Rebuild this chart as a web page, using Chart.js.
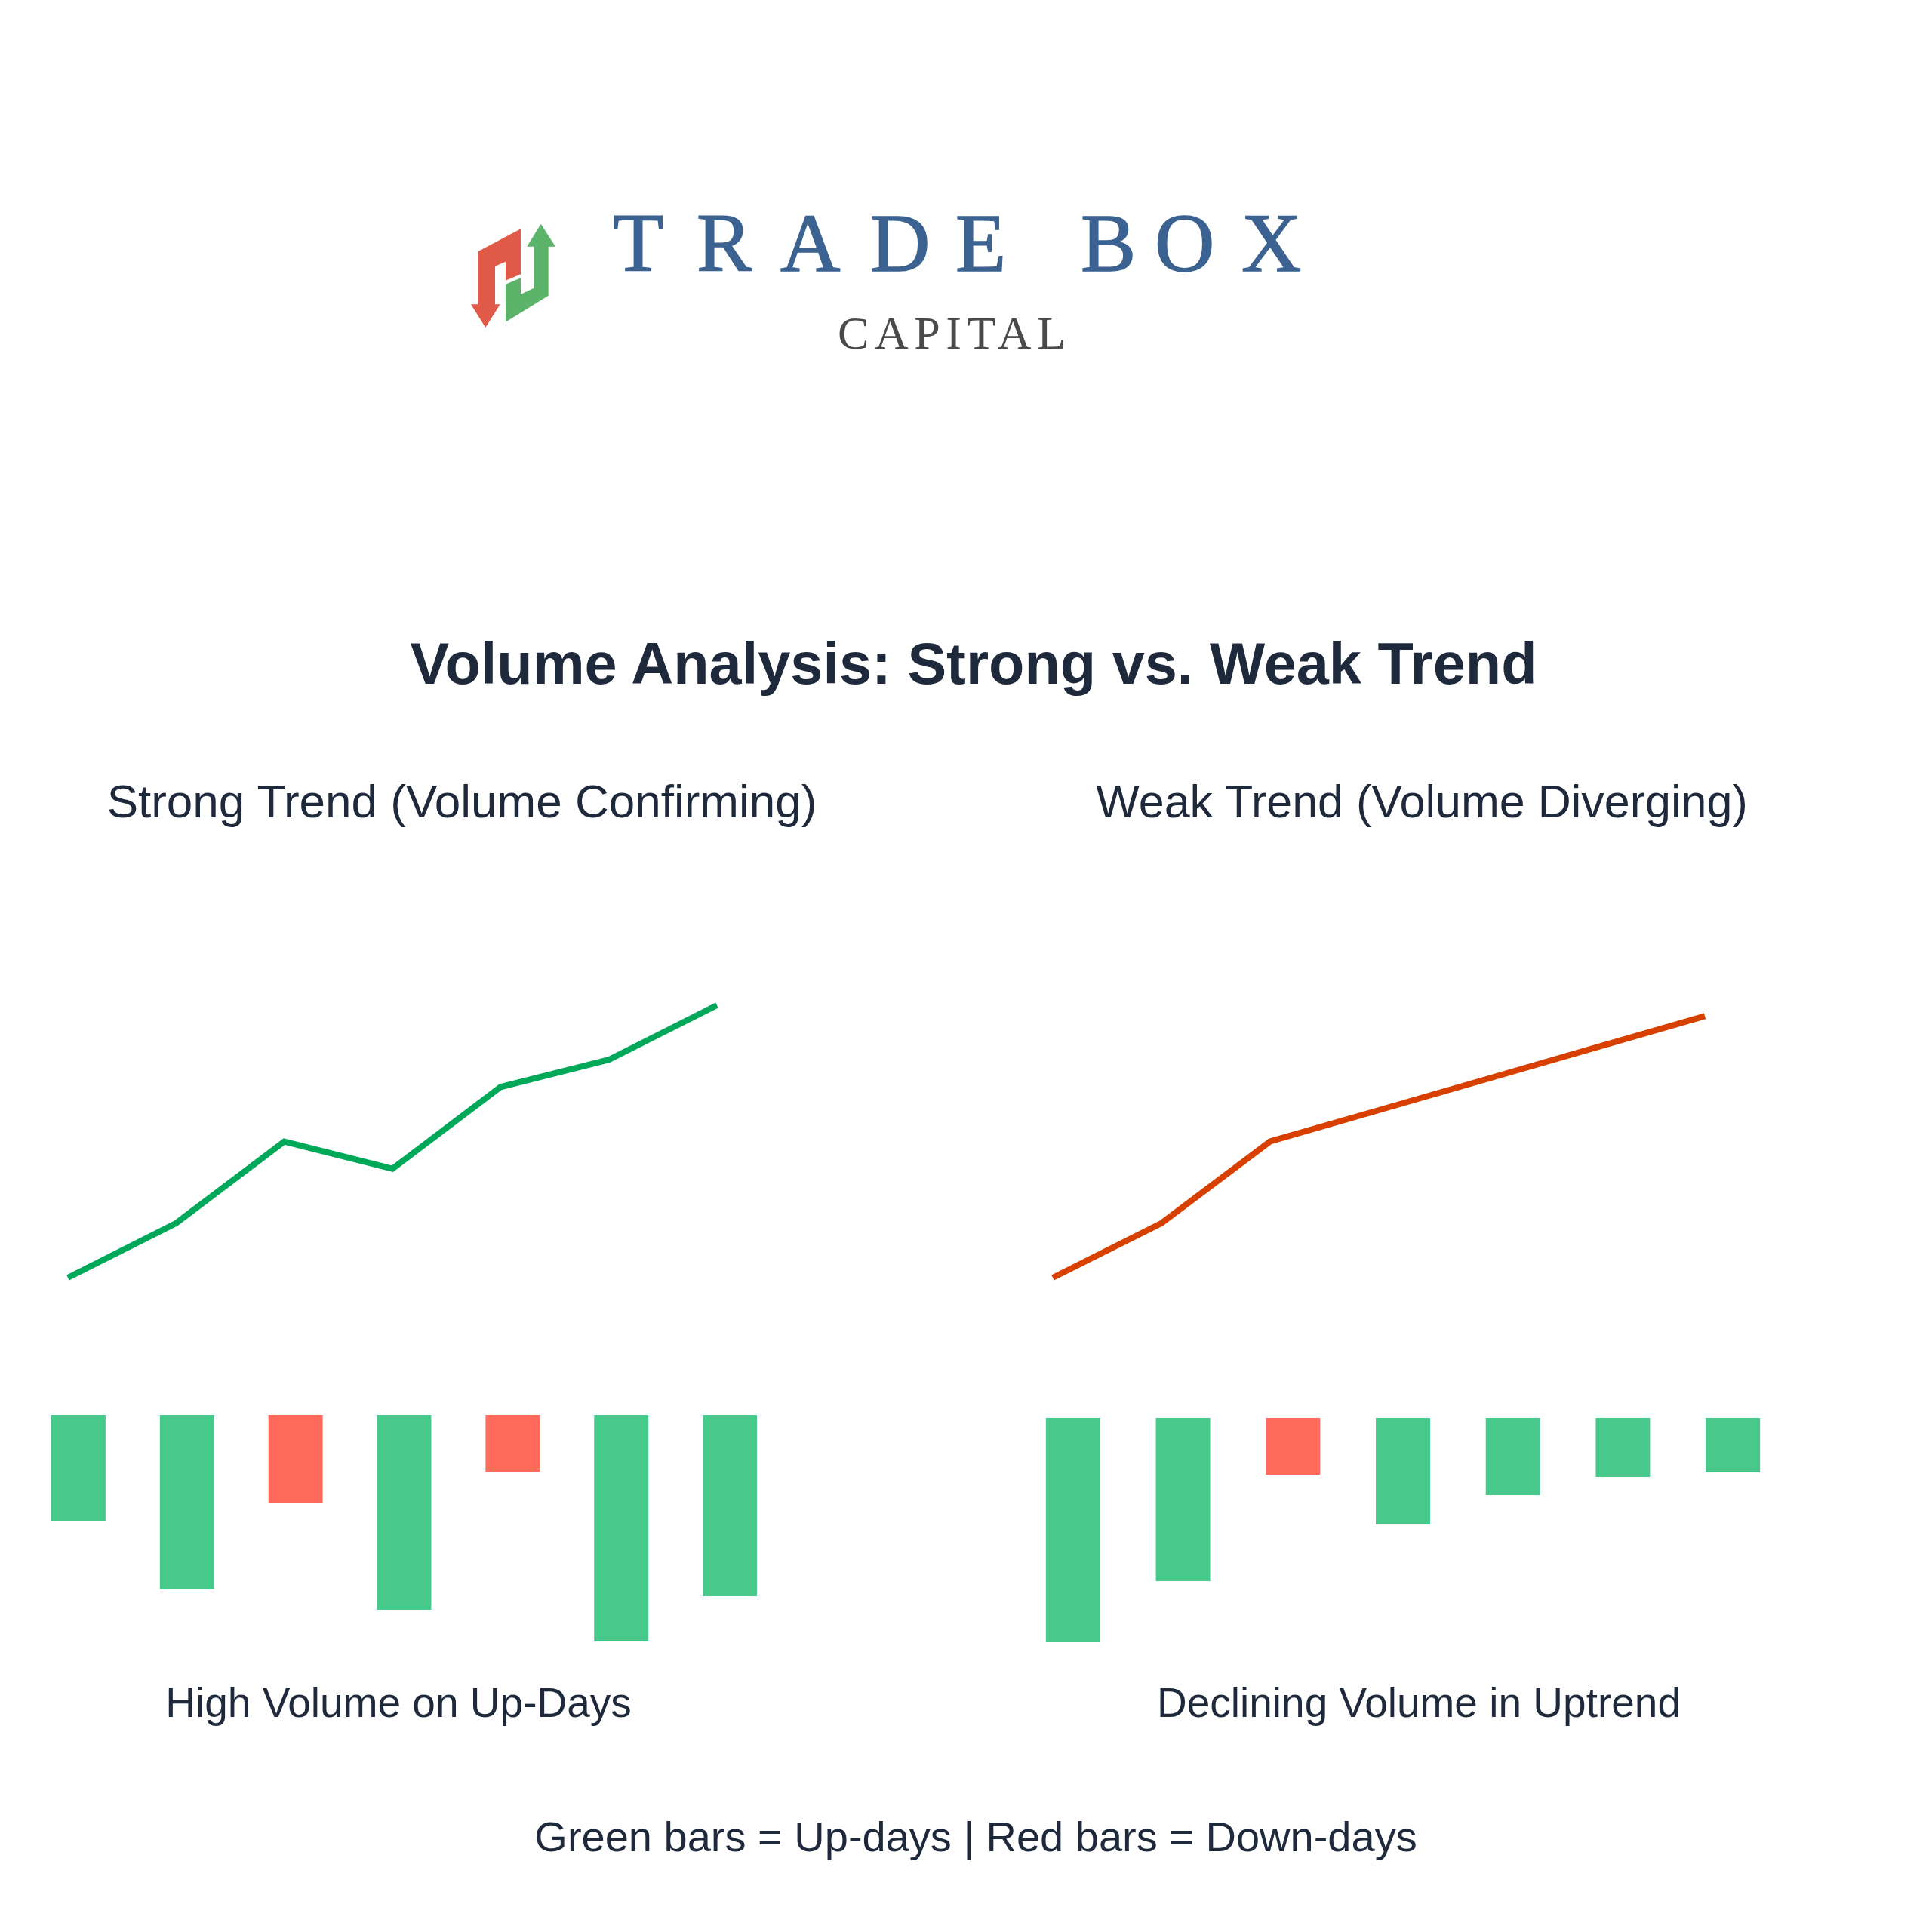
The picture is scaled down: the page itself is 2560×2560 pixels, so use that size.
<!DOCTYPE html>
<html lang="en">
<head>
  <meta charset="UTF-8" />
  <title>Volume Analysis: Strong vs. Weak Trend</title>
  <script src="https://cdn.jsdelivr.net/npm/chart.js"></script>
  <style>
    body {
      margin: 0;
      background: #fff;
      width: 2560px;
      height: 2560px;
      position: relative;
      overflow: hidden;
    }
    canvas, svg {
      position: absolute;
    }
    #overlay {
      left: 0;
      top: 0;
    }
    .sans {
      font-family: "Liberation Sans", Arial, sans-serif;
      fill: #1e293b;
    }
  </style>
</head>
<body>
  <svg id="overlay" width="2560" height="2560" viewBox="0 0 2560 2560">
    <!-- logo mark -->
    <g transform="translate(610,280)">
      <polygon fill="#e05a47" points="23.3,53.3 80,23.3 80,83.3 60,91.7 60,66.7 46,72.7 46,123.3 52.7,123.3 33.3,154 14,123.3 23.3,123.3" />
      <polygon fill="#5cb36a" points="106.7,16.7 126,46.7 116.7,46.7 116.7,111.7 60,146.7 60,96.7 80,88.3 80,110 97.3,101.7 97.3,46.7 88.3,46.7" />
    </g>
    <text x="812 923 1034 1153 1266 1432 1530 1645" y="359" font-family="Liberation Serif, serif" font-size="110" fill="#3b6290" stroke="#3b6290" stroke-width="1.5">TRADEBOX</text>
    <text x="1110" y="462" textLength="302" lengthAdjust="spacing" font-family="Liberation Serif, serif" font-size="62" fill="#4a4a4a">CAPITAL</text>

    <text class="sans" x="1290" y="906" text-anchor="middle" font-size="77.5" font-weight="bold">Volume Analysis: Strong vs. Weak Trend</text>
    <text class="sans" x="612" y="1083" text-anchor="middle" font-size="62">Strong Trend (Volume Confirming)</text>
    <text class="sans" x="1884" y="1083" text-anchor="middle" font-size="61">Weak Trend (Volume Diverging)</text>
    <text class="sans" x="528" y="2275" text-anchor="middle" font-size="55">High Volume on Up-Days</text>
    <text class="sans" x="1880" y="2275" text-anchor="middle" font-size="55">Declining Volume in Uptrend</text>
    <text class="sans" x="1293" y="2453" text-anchor="middle" font-size="56">Green bars = Up-days | Red bars = Down-days</text>
  </svg>

  <canvas id="strongLine" width="920" height="430" style="left:60px;top:1300px"></canvas>
  <canvas id="weakLine" width="924" height="430" style="left:1365px;top:1300px"></canvas>
  <canvas id="strongBars" width="1007" height="300" style="left:32px;top:1875px"></canvas>
  <canvas id="weakBars" width="1020" height="300" style="left:1349px;top:1879px"></canvas>

  <script>
    const days = ['Day 1', 'Day 2', 'Day 3', 'Day 4', 'Day 5', 'Day 6', 'Day 7'];

    const strongPrice = [100, 102, 105, 104, 107, 108, 110];
    const weakPrice = [100, 102, 105, 106.15, 107.3, 108.45, 109.6];

    const strongVolume = [47, 77, 39, 86, 25, 100, 80];
    const weakVolume = [99, 72, 25, 47, 34, 26, 24];

    const strongUp = [true, true, false, true, false, true, true];
    const weakUp = [true, true, false, true, true, true, true];

    const upColor = '#48c98c';
    const downColor = '#ff6a5b';

    function priceChart(id, values, color) {
      return new Chart(document.getElementById(id), {
        type: 'line',
        data: {
          labels: days,
          datasets: [{
            data: values,
            borderColor: color,
            borderWidth: 8,
            pointRadius: 0,
            tension: 0,
            fill: false,
            clip: false
          }]
        },
        options: {
          responsive: false,
          animation: false,
          events: [],
          layout: { padding: { left: 30, right: 30, top: 32, bottom: 37 } },
          plugins: { legend: { display: false }, tooltip: { enabled: false } },
          scales: {
            x: { display: false, offset: false },
            y: { display: false, min: 100, max: 110 }
          }
        }
      });
    }

    function volumeChart(id, values, up, barPct) {
      return new Chart(document.getElementById(id), {
        type: 'bar',
        data: {
          labels: days,
          datasets: [{
            data: values,
            backgroundColor: up.map(u => u ? upColor : downColor),
            borderWidth: 0,
            categoryPercentage: 1,
            barPercentage: barPct
          }]
        },
        options: {
          responsive: false,
          animation: false,
          events: [],
          layout: { padding: 0 },
          plugins: { legend: { display: false }, tooltip: { enabled: false } },
          scales: {
            x: { display: false },
            y: { display: false, min: 0, max: 100, reverse: true }
          }
        }
      });
    }

    priceChart('strongLine', strongPrice, '#00a859');
    priceChart('weakLine', weakPrice, '#d84000');
    volumeChart('strongBars', strongVolume, strongUp, 0.5);
    volumeChart('weakBars', weakVolume, weakUp, 0.494);
  </script>
</body>
</html>
